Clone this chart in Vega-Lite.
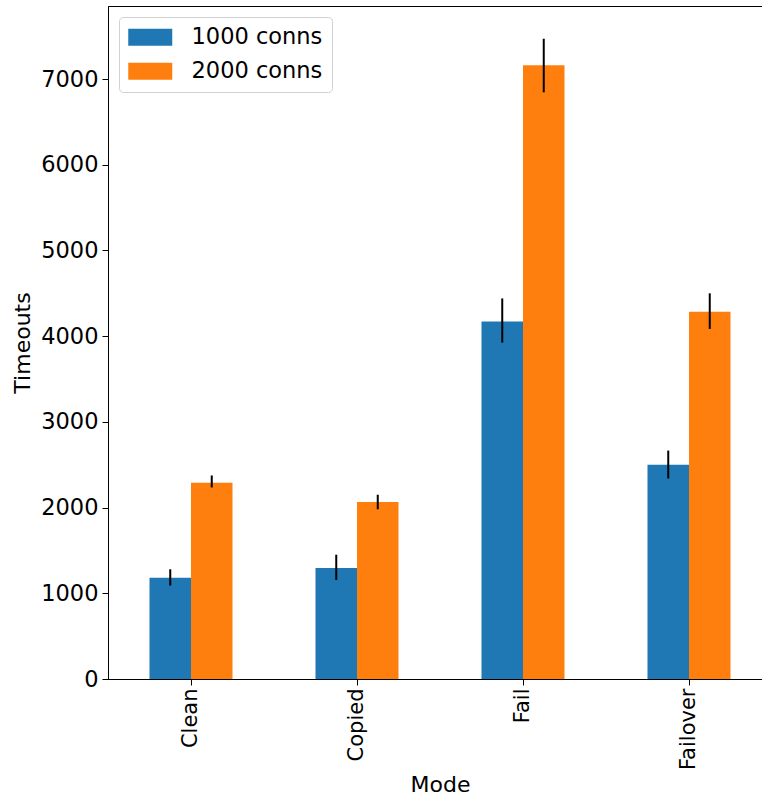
{
  "$schema": "https://vega.github.io/schema/vega-lite/v6.json",
  "width": 664,
  "height": 673,
  "autosize": {"type": "none"},
  "padding": {"left": 108, "top": 6, "right": 0, "bottom": 120},
  "background": "white",
  "config": {
    "font": "DejaVu Sans",
    "view": {"stroke": "black", "strokeWidth": 1},
    "axis": {
      "labelFont": "DejaVu Sans",
      "titleFont": "DejaVu Sans",
      "labelFontSize": 21,
      "titleFontSize": 22,
      "titleFontWeight": "normal",
      "labelColor": "black",
      "titleColor": "black",
      "tickColor": "black",
      "domainColor": "black",
      "tickSize": 6,
      "grid": false
    }
  },
  "data": {
    "values": [
      {"Mode": "Clean", "conns": "1000 conns", "Timeouts": 1180, "lo": 1090, "hi": 1280},
      {"Mode": "Clean", "conns": "2000 conns", "Timeouts": 2290, "lo": 2235, "hi": 2375},
      {"Mode": "Copied", "conns": "1000 conns", "Timeouts": 1295, "lo": 1155, "hi": 1450},
      {"Mode": "Copied", "conns": "2000 conns", "Timeouts": 2065, "lo": 1980, "hi": 2150},
      {"Mode": "Fail", "conns": "1000 conns", "Timeouts": 4170, "lo": 3925, "hi": 4440},
      {"Mode": "Fail", "conns": "2000 conns", "Timeouts": 7160, "lo": 6845, "hi": 7470},
      {"Mode": "Failover", "conns": "1000 conns", "Timeouts": 2500, "lo": 2340, "hi": 2665},
      {"Mode": "Failover", "conns": "2000 conns", "Timeouts": 4285, "lo": 4085, "hi": 4500}
    ]
  },
  "encoding": {
    "x": {
      "field": "Mode",
      "type": "nominal",
      "scale": {"paddingInner": 0.5, "paddingOuter": 0.25},
      "axis": {"labelAngle": -90, "labelPadding": 3, "title": "Mode", "titlePadding": 5}
    },
    "xOffset": {"field": "conns", "type": "nominal", "scale": {"paddingInner": 0, "paddingOuter": 0}}
  },
  "layer": [
    {
      "mark": {"type": "bar"},
      "encoding": {
        "y": {
          "field": "Timeouts",
          "type": "quantitative",
          "scale": {"domain": [0, 7852], "nice": false},
          "axis": {"values": [0, 1000, 2000, 3000, 4000, 5000, 6000, 7000], "format": "d", "labelPadding": 4, "labelFontSize": 22.5, "title": "Timeouts", "titlePadding": 6}
        },
        "color": {
          "field": "conns",
          "type": "nominal",
          "scale": {"range": ["#1f77b4", "#ff7f0e"]},
          "legend": {
            "title": null,
            "orient": "none",
            "legendX": 11,
            "legendY": 11,
            "labelFont": "DejaVu Sans",
            "labelFontSize": 22.5,
            "labelColor": "black",
            "symbolType": "M-1.1,-0.85L3.3,-0.85L3.3,0.85L-1.1,0.85Z",
            "symbolSize": 400,
            "symbolStrokeWidth": 0,
            "symbolOpacity": 1,
            "rowPadding": 11,
            "labelOffset": 41,
            "padding": 9,
            "strokeColor": "#d0d0d0",
            "fillColor": "white",
            "cornerRadius": 4
          }
        }
      }
    },
    {
      "mark": {"type": "rule", "color": "black", "strokeWidth": 2},
      "encoding": {
        "y": {"field": "lo", "type": "quantitative"},
        "y2": {"field": "hi"}
      }
    }
  ]
}
